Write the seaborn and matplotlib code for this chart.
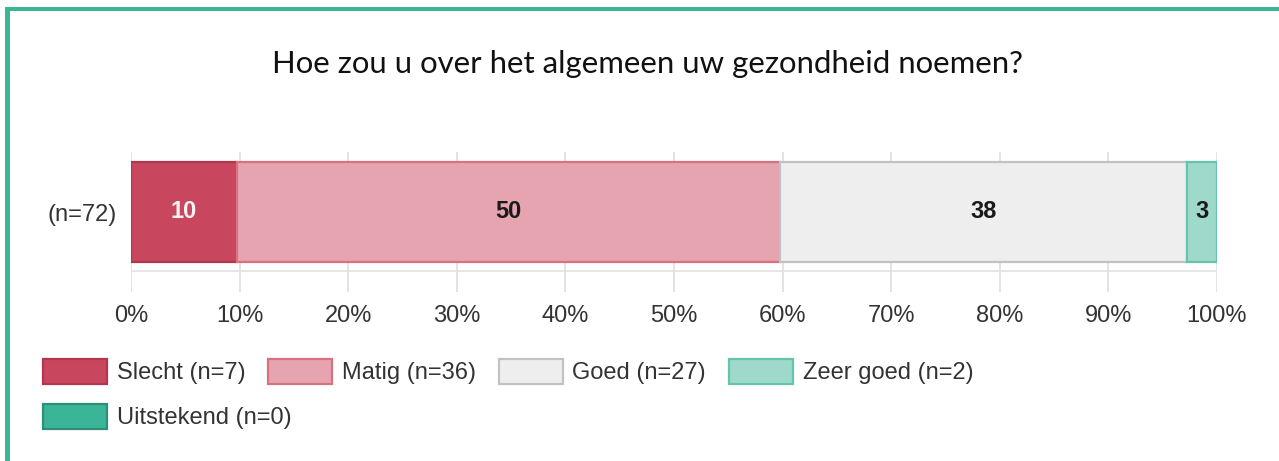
import numpy as np
import pandas as pd
import matplotlib
matplotlib.use("Agg")
import matplotlib.pyplot as plt
from matplotlib.patches import Rectangle
import seaborn as sns

# Survey responses: "Hoe zou u over het algemeen uw gezondheid noemen?"
categories = ["Slecht", "Matig", "Goed", "Zeer goed", "Uitstekend"]
counts = [7, 36, 27, 2, 0]
group_label = "(n=72)"
tick_values = [0, 10, 20, 30, 40, 50, 60, 70, 80, 90, 100]
tick_labels = [f"{v}%" for v in tick_values]

face_colors = ["#c8475f", "#e6a3b0", "#eeeeee", "#9fd9cb", "#3ab597"]
edge_colors = ["#b3364e", "#d9727f", "#c2c2c2", "#62c5ac", "#2e8e77"]
value_colors = ["#f2f2f2", "#1a1a1a", "#1a1a1a", "#1a1a1a", "#1a1a1a"]

total = sum(counts)
pct = [c / total * 100 for c in counts]
df = pd.DataFrame({"categorie": categories, "percentage": pct, "groep": group_label})

sns.set_style("white")
plt.rcParams["font.family"] = ["Liberation Sans", "DejaVu Sans"]

W, H = 1279, 461
fig = plt.figure(figsize=(W / 100, H / 100), dpi=100)
ax_left, ax_right, ax_top, ax_bottom = 131, 1217, 152, 292
ax = fig.add_axes([ax_left / W, 1 - ax_bottom / H, (ax_right - ax_left) / W, (ax_bottom - ax_top) / H])

sns.barplot(data=df, x="percentage", y="groep", hue="categorie", hue_order=categories,
            palette=face_colors, saturation=1, dodge=False, width=1.0, errorbar=None,
            legend=False, linewidth=1.6, ax=ax, zorder=3)

# Stack the segments: shift each bar to start where the previous one ends
lefts = np.concatenate([[0], np.cumsum(pct)[:-1]])
for patch, left, ec, w in zip(ax.patches, lefts, edge_colors, pct):
    patch.set_x(left)
    patch.set_edgecolor(ec)
    if w == 0:
        patch.set_visible(False)

for left, w, col in zip(lefts, pct, value_colors):
    if w > 0:
        ax.text(left + w / 2, 0, f"{round(w)}", ha="center", va="center",
                fontsize=17, fontweight="bold", color=col, zorder=5)

ax.set_xlim(0, 100)
ax.set_ylim(0.8, -0.6)
ax.set_xticks(tick_values)
ax.set_xticklabels(tick_labels)
ax.set_xlabel("")
ax.set_ylabel("")
for s in ax.spines.values():
    s.set_visible(False)
ax.grid(axis="x", color="#dedede", linewidth=1.2, zorder=0)
ax.set_axisbelow(True)
ax.axhline(0.59, color="#e2e2e2", linewidth=1.2, zorder=1)
ax.tick_params(axis="x", length=0, pad=9, labelsize=17, labelcolor="#333333")
ax.tick_params(axis="y", length=0, pad=10, labelsize=17, labelcolor="#333333")

# Title
fig.text(647 / W, 1 - 64 / H, "Hoe zou u over het algemeen uw gezondheid noemen?",
         ha="center", va="center", fontsize=22.4, color="#111111", family=["Lato", "DejaVu Sans"])

# Legend: four entries on the first row, one on the second
handles = [Rectangle((0, 0), 1, 1, facecolor=fc, edgecolor=ec, linewidth=1.6)
           for fc, ec in zip(face_colors, edge_colors)]
labels = [f"{c} (n={n})" for c, n in zip(categories, counts)]
leg_kw = dict(frameon=False, fontsize=17, handlelength=2.7, handleheight=1.25,
              handletextpad=0.42, columnspacing=0.97, borderpad=0, borderaxespad=0,
              labelcolor="#333333", loc="upper left", bbox_transform=fig.transFigure)
leg1 = fig.legend(handles[:4], labels[:4], ncol=4, bbox_to_anchor=(43 / W, 1 - 359 / H), **leg_kw)
leg2 = fig.legend(handles[4:], labels[4:], ncol=1, bbox_to_anchor=(43 / W, 1 - 404 / H), **leg_kw)

# Teal frame along the top and left edges
frame_color = "#3ab595"
fig.patches.append(Rectangle((5 / W, 1 - 11 / H), 1 - 5 / W, 4 / H, transform=fig.transFigure,
                             facecolor=frame_color, edgecolor="none"))
fig.patches.append(Rectangle((5 / W, 0), 5 / W, 1 - 7 / H, transform=fig.transFigure,
                             facecolor=frame_color, edgecolor="none"))

fig.savefig("out.png", dpi=100, facecolor="white")
